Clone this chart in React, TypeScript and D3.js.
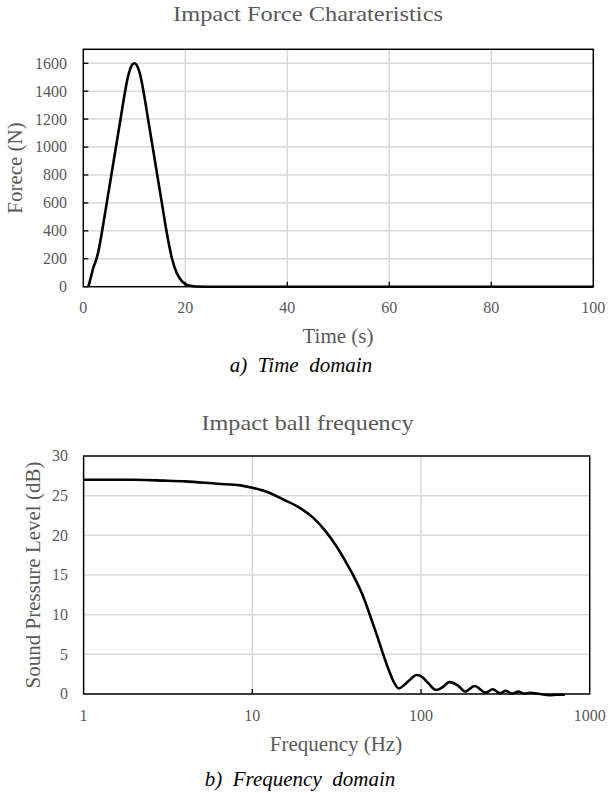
import React from "react";
import * as d3 from "d3";

// ---- Data: a) time domain ----
const timeS = [1, 1.5, 2, 2.5, 3, 3.7, 4.6, 5.5, 6.4, 7.3, 8.2, 8.7, 9.2, 10, 10.8, 11.3, 11.8, 12.7, 13.6, 14.5, 15.4, 16.3, 17.4, 18.3, 19.2, 20, 21, 22, 24, 30, 40, 60, 80, 100];
const forceN = [0, 70, 140, 190, 260, 400, 600, 800, 1000, 1200, 1400, 1495, 1560, 1600, 1560, 1495, 1400, 1200, 1000, 800, 600, 400, 200, 100, 45, 19, 6, 1, 0, 0, 0, 0, 0, 0];
const timeTicks = [0, 20, 40, 60, 80, 100];
const forceTicks = [0, 200, 400, 600, 800, 1000, 1200, 1400, 1600];

// ---- Data: b) frequency domain ----
const freqHz = [1, 2, 3, 4, 6.2, 8.5, 10, 12.5, 15.3, 19, 23, 27, 31.6, 35.5, 39.8, 45, 49.9, 55, 59.9, 65, 69, 74, 80, 87, 94, 101, 110, 123, 135, 147, 165, 183, 208, 242, 266, 294, 318, 347, 377, 410, 443, 508, 580, 635, 712];
const splDb = [27.0, 27.0, 26.9, 26.8, 26.5, 26.3, 26.0, 25.4, 24.5, 23.5, 22.2, 20.6, 18.6, 16.8, 14.9, 12.5, 9.9, 7.3, 4.9, 2.8, 1.5, 0.7, 1.2, 1.9, 2.4, 2.2, 1.4, 0.5, 0.9, 1.5, 1.1, 0.3, 1.0, 0.17, 0.6, 0.1, 0.4, 0.05, 0.3, 0.05, 0.15, 0.0, -0.15, -0.1, -0.1];
const freqTicks = [1, 10, 100, 1000];
const splTicks = [0, 5, 10, 15, 20, 25, 30];

const SERIF = "'Liberation Serif', 'Times New Roman', serif";
const GRAY = "#595959";
const GRID = "#d9d9d9";

export default function App() {
  // top chart
  const x1 = d3.scaleLinear().domain([0, 100]).range([83.3, 593.3]);
  const y1 = d3.scaleLinear().domain([0, 1700]).range([286.7, 49.3]);
  const line1 = d3
    .line<number>()
    .x((_, i) => x1(timeS[i]))
    .y((d) => y1(d))
    .curve(d3.curveMonotoneX)(forceN) as string;

  // bottom chart
  const x2 = d3.scaleLog().domain([1, 1000]).range([83.6, 589.7]);
  const y2 = d3.scaleLinear().domain([0, 30]).range([694, 456]);
  const line2 = d3
    .line<number>()
    .x((_, i) => x2(freqHz[i]))
    .y((d) => y2(d))
    .curve(d3.curveMonotoneX)(splDb) as string;

  const [a0, a1] = x1.range();
  const [b0, b1] = y1.range();
  const [c0, c1] = x2.range();
  const [e0, e1] = y2.range();

  return (
    <svg
      width={608}
      height={793}
      style={{ position: "absolute", left: 0, top: 0, background: "#fff" }}
      fontFamily={SERIF}
    >
      <rect x={0} y={0} width={608} height={793} fill="#fff" />

      {/* ===== Top chart ===== */}
      <text x={308} y={21} textAnchor="middle" fontSize={22} fill={GRAY} textLength={270} lengthAdjust="spacingAndGlyphs">
        Impact Force Charateristics
      </text>
      {forceTicks.filter((t) => t > 0).map((t) => (
        <line key={"gy1" + t} x1={a0} x2={a1} y1={y1(t)} y2={y1(t)} stroke={GRID} strokeWidth={1.5} />
      ))}
      {timeTicks.filter((t) => t > 0 && t < 100).map((t) => (
        <line key={"gx1" + t} x1={x1(t)} x2={x1(t)} y1={b0} y2={b1} stroke={GRID} strokeWidth={1.5} />
      ))}
      {forceTicks.map((t) => (
        <line key={"ty1" + t} x1={a0} x2={a0 + 5} y1={y1(t)} y2={y1(t)} stroke="#000" strokeWidth={1.3} />
      ))}
      {timeTicks.filter((t) => t > 0 && t < 100).map((t) => (
        <line key={"tx1" + t} x1={x1(t)} x2={x1(t)} y1={b0} y2={b0 - 5} stroke="#000" strokeWidth={1.3} />
      ))}
      <rect x={a0} y={b1} width={a1 - a0} height={b0 - b1} fill="none" stroke="#000" strokeWidth={1.5} />
      <path d={line1} fill="none" stroke="#000" strokeWidth={2.6} strokeLinejoin="round" />
      {forceTicks.map((t) => (
        <text key={"ly1" + t} x={67} y={y1(t)} dy="0.34em" textAnchor="end" fontSize={16} fill={GRAY}>
          {t}
        </text>
      ))}
      {timeTicks.map((t) => (
        <text key={"lx1" + t} x={x1(t)} y={313} textAnchor="middle" fontSize={16} fill={GRAY}>
          {t}
        </text>
      ))}
      <text x={338} y={343} textAnchor="middle" fontSize={21} fill={GRAY}>
        Time (s)
      </text>
      <text transform={`translate(22,${(b0 + b1) / 2}) rotate(-90)`} textAnchor="middle" fontSize={21} fill={GRAY}>
        Forece (N)
      </text>
      <text x={301} y={372} textAnchor="middle" fontSize={21} fontStyle="italic" fill="#000" style={{ whiteSpace: "pre" }}>
        {"a)  Time  domain"}
      </text>

      {/* ===== Bottom chart ===== */}
      <text x={307.5} y={430} textAnchor="middle" fontSize={22} fill={GRAY} textLength={212} lengthAdjust="spacingAndGlyphs">
        Impact ball frequency
      </text>
      {splTicks.filter((t) => t > 0 && t < 30).map((t) => (
        <line key={"gy2" + t} x1={c0} x2={c1} y1={y2(t)} y2={y2(t)} stroke={GRID} strokeWidth={1.5} />
      ))}
      {freqTicks.filter((t) => t > 1 && t < 1000).map((t) => (
        <line key={"gx2" + t} x1={x2(t)} x2={x2(t)} y1={e0} y2={e1} stroke={GRID} strokeWidth={1.5} />
      ))}
      {freqTicks.filter((t) => t > 1 && t < 1000).map((t) => (
        <line key={"tx2" + t} x1={x2(t)} x2={x2(t)} y1={e0} y2={e0 - 5} stroke="#000" strokeWidth={1.3} />
      ))}
      <rect x={c0} y={e1} width={c1 - c0} height={e0 - e1} fill="none" stroke="#000" strokeWidth={1.5} />
      <path d={line2} fill="none" stroke="#000" strokeWidth={2.6} strokeLinejoin="round" />
      {splTicks.map((t) => (
        <text key={"ly2" + t} x={68} y={y2(t)} dy="0.34em" textAnchor="end" fontSize={16} fill={GRAY}>
          {t}
        </text>
      ))}
      {freqTicks.map((t) => (
        <text key={"lx2" + t} x={x2(t)} y={721} textAnchor="middle" fontSize={16} fill={GRAY}>
          {t}
        </text>
      ))}
      <text x={336} y={751} textAnchor="middle" fontSize={21} fill={GRAY}>
        Frequency (Hz)
      </text>
      <text transform={`translate(40,${(e0 + e1) / 2}) rotate(-90)`} textAnchor="middle" fontSize={21} fill={GRAY}>
        Sound Pressure Level (dB)
      </text>
      <text x={300} y={786} textAnchor="middle" fontSize={21} fontStyle="italic" fill="#000" style={{ whiteSpace: "pre" }}>
        {"b)  Frequency  domain"}
      </text>
    </svg>
  );
}
